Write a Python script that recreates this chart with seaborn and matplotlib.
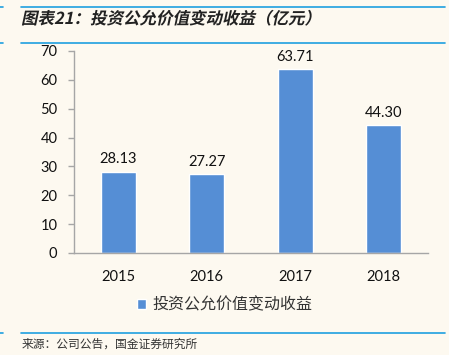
import matplotlib
matplotlib.use("Agg")
import matplotlib.pyplot as plt
import seaborn as sns
from matplotlib.textpath import TextPath
from matplotlib.patches import PathPatch
from matplotlib.font_manager import FontProperties
from matplotlib.transforms import Affine2D

years = ["2015", "2016", "2017", "2018"]
gains = [28.13, 27.27, 63.71, 44.30]
series_name = "投资公允价值变动收益"
title = "图表21：投资公允价值变动收益（亿元）"
source = "来源：公司公告，国金证券研究所"
y_ticks = [0, 10, 20, 30, 40, 50, 60, 70]

bg = "#FDF9F0"
bar_color = "#558ED5"
line_color = "#1E9FE0"
spine_color = "#A6A6A6"

sns.set_style("white")
plt.rcParams["font.family"] = ["Noto Sans CJK SC", "DejaVu Sans"]
num_font = ["Lato", "Noto Sans CJK SC"]

fig = plt.figure(figsize=(4.49, 3.55), dpi=100, facecolor=bg)
ax = fig.add_axes([74 / 449, 1 - 253 / 355, (428 - 74) / 449, (253 - 51) / 355])
ax.set_facecolor(bg)

sns.barplot(x=years, y=gains, color=bar_color, width=0.4, saturation=1,
            label=series_name, ax=ax)
ax.bar_label(ax.containers[0], fmt="%.2f", padding=4, fontsize=10.5,
             family=num_font, color="#111111")

ax.set_ylim(0, 70)
ax.set_xlim(-0.5, len(years) - 0.5)
ax.set_yticks(y_ticks)
ax.set_xticks([i - 0.5 for i in range(len(years) + 1)], minor=True)
ax.tick_params(axis="x", which="major", length=0, pad=12)
ax.tick_params(axis="x", which="minor", length=4, width=1, color=spine_color,
               direction="out")
ax.tick_params(axis="y", length=4, width=1, color=spine_color, pad=8,
               direction="out", left=True)
for lab in ax.get_xticklabels() + ax.get_yticklabels():
    lab.set_family(num_font)
    lab.set_fontsize(10.5)
    lab.set_color("#111111")

sns.despine(ax=ax, top=True, right=True)
for s in ("left", "bottom"):
    ax.spines[s].set_color(spine_color)
    ax.spines[s].set_linewidth(1)
ax.set_xlabel("")
ax.set_ylabel("")

leg = ax.legend(loc="center", bbox_to_anchor=(0.5, 1 - 305 / 355),
                bbox_transform=fig.transFigure, frameon=False,
                handlelength=0.6, handleheight=0.6, handletextpad=0.4,
                fontsize=11.5)
for t in leg.get_texts():
    t.set_color("#333333")

# header / footer rules
for yy in (7, 43, 333):
    fig.add_artist(plt.Line2D([21 / 449, 445 / 449], [1 - yy / 355] * 2,
                              color=line_color, lw=1.2))
    fig.add_artist(plt.Line2D([0, 3 / 449], [1 - yy / 355] * 2,
                              color=line_color, lw=1.2))

# italic-looking bold title (CJK font has no italic, so shear the glyph path)
tp = TextPath((0, 0), title, size=16.5,
              prop=FontProperties(family="Noto Sans CJK SC", weight="bold"))
title_tf = Affine2D().skew_deg(12, 0).translate(21, 355 - 24)
fig.add_artist(PathPatch(tp, transform=title_tf, color="#222222", lw=0))

fig.text(22 / 449, 1 - 344 / 355, source, fontsize=8.5, ha="left",
         va="center", color="#333333")

fig.savefig("out.png", dpi=100, facecolor=bg)
